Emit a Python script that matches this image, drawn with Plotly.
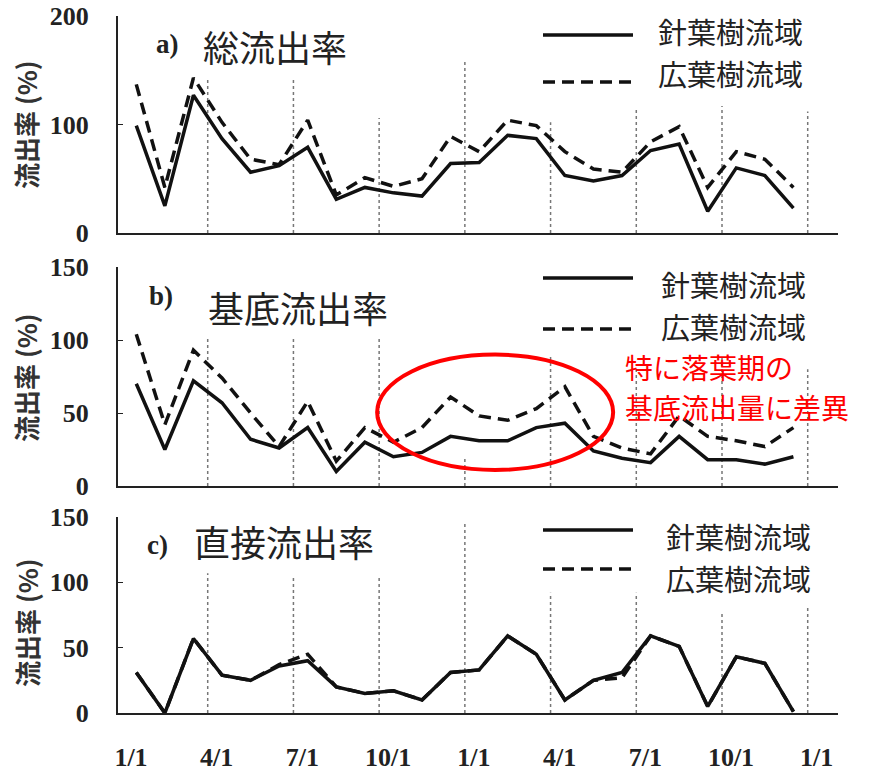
import plotly.graph_objects as go

# ---------------- data ----------------
month_pos = [0.5, 1.5, 2.5, 3.5, 4.5, 5.5, 6.5, 7.5, 8.5, 9.5, 10.5, 11.5,
             12.5, 13.5, 14.5, 15.5, 16.5, 17.5, 18.5, 19.5, 20.5, 21.5, 22.5, 23.5]

total_conifer = [99, 25, 127, 87, 56, 62, 79, 31, 42, 37, 34, 64,
                 65, 90, 87, 53, 48, 53, 76, 82, 20, 60, 53, 23]
total_broadleaf = [137, 42, 143, 102, 68, 63, 104, 35, 51, 43, 50, 89,
                   75, 104, 99, 75, 59, 56, 84, 98, 42, 75, 68, 42]

base_conifer = [70, 25, 72, 57, 32, 26, 40, 10, 30, 20, 23, 34,
                31, 31, 40, 43, 24, 19, 16, 34, 18, 18, 15, 20]
base_broadleaf = [104, 42, 93, 74, 50, 27, 58, 17, 40, 30, 40, 61,
                  48, 45, 53, 68, 34, 26, 22, 48, 34, 31, 27, 40]

direct_conifer = [31, 0, 57, 29, 25, 36, 40, 20, 15, 17, 10, 31,
                  33, 59, 45, 10, 25, 31, 59, 51, 5, 43, 38, 1]
direct_broadleaf = [31, 0, 57, 29, 25, 37, 45, 20, 15, 17, 10, 31,
                    33, 59, 45, 10, 25, 27, 59, 51, 5, 43, 38, 1]

tick_months = [0, 3, 6, 9, 12, 15, 18, 21, 24]
tick_labels = ["1/1", "4/1", "7/1", "10/1", "1/1", "4/1", "7/1", "10/1", "1/1"]
grid_months = [3, 6, 9, 12, 15, 18, 21, 24]
grid_top_a = [142, 142, 106, 160, 102, 114, 117, 112]
grid_top_b = [101, 101, 101, 20, 89, 80, 90, 80]
grid_top_c = [107, 105, 105, 145, 92, 92, 76, 81]

panel_titles = ["総流出率", "基底流出率", "直接流出率"]
panel_letters = ["a)", "b)", "c)"]
series_names = ["針葉樹流域", "広葉樹流域"]
y_title = "流出率 (%)"
note_lines = ["特に落葉期の", "基底流出量に差異"]

# ---------------- geometry ----------------
W, H = 879, 775
ML, MR, MT, MB = 118, 41, 16, 62
PW = W - ML - MR
PH = H - MT - MB


def px(x):
    return (x - ML) / PW


def py(y):
    return (H - MB - y) / PH


XR = [-0.14, 25.06]
BLACK = "#111111"
LW = 3.5
DASH = "12px,7px"
SERIF = "Liberation Serif"
CJK = "Noto Sans CJK JP"

fig = go.Figure()

panels = [
    ("x", "y", total_conifer, total_broadleaf),
    ("x2", "y2", base_conifer, base_broadleaf),
    ("x3", "y3", direct_conifer, direct_broadleaf),
]
for xa, ya, sol, das in panels:
    fig.add_trace(go.Scatter(x=month_pos, y=das, mode="lines", xaxis=xa, yaxis=ya,
                             line=dict(color=BLACK, width=LW, dash=DASH),
                             name=series_names[1], showlegend=False))
    fig.add_trace(go.Scatter(x=month_pos, y=sol, mode="lines", xaxis=xa, yaxis=ya,
                             line=dict(color=BLACK, width=LW),
                             name=series_names[0], showlegend=False))

axis_common = dict(showline=True, linecolor="#222222", linewidth=2, showgrid=False,
                   zeroline=False, automargin=False)
yfont = dict(family=SERIF, size=26, color="#222222", weight="bold")

fig.update_layout(
    width=W, height=H, margin=dict(l=ML, r=MR, t=MT, b=MB),
    paper_bgcolor="white", plot_bgcolor="white", showlegend=False,
    xaxis=dict(domain=[0, 1], anchor="y", range=XR, showticklabels=False, ticks="", **axis_common),
    xaxis2=dict(domain=[0, 1], anchor="y2", range=XR, showticklabels=False, ticks="", **axis_common),
    xaxis3=dict(domain=[0, 1], anchor="y3", range=XR, tickvals=tick_months, ticktext=tick_labels,
                ticks="", tickfont=yfont, ticklabelshift=9, ticklabelstandoff=20, **axis_common),
    yaxis=dict(domain=[py(233), py(16)], anchor="x", range=[0, 200], tickvals=[0, 100, 200],
               ticks="inside", ticklen=5, tickcolor="#222", tickfont=yfont, ticklabelstandoff=22,
               **axis_common),
    yaxis2=dict(domain=[py(486), py(267)], anchor="x2", range=[0, 150], tickvals=[0, 50, 100, 150],
                ticks="inside", ticklen=5, tickcolor="#222", tickfont=yfont, ticklabelstandoff=22,
                **axis_common),
    yaxis3=dict(domain=[py(713), py(517)], anchor="x3", range=[0, 150], tickvals=[0, 50, 100, 150],
                ticks="inside", ticklen=5, tickcolor="#222", tickfont=yfont, ticklabelstandoff=22,
                **axis_common),
)

# dotted vertical guide lines
for (xa, ya), tops in zip([("x", "y"), ("x2", "y2"), ("x3", "y3")], [grid_top_a, grid_top_b, grid_top_c]):
    for m, t in zip(grid_months, tops):
        fig.add_shape(type="line", xref=xa, yref=ya, x0=m, x1=m, y0=0, y1=t,
                      line=dict(color="#777777", width=1.5, dash="dot"), layer="below")

# red ellipse on panel b
fig.add_shape(type="circle", xref="x2", yref="y2", x0=8.93, x1=17.19, y0=11, y1=90,
              line=dict(color="#ff0000", width=4))

# panel titles, letters, legends, y titles
title_pos = [(202, 46), (207, 307), (193, 541)]
letter_pos = [(155, 44), (148, 296), (146, 545)]
legend_lines = [(35, 82), (278, 329), (530, 569)]
legend_text = [(657, 31, 73), (660, 284, 326), (665, 536, 578)]
ytitle_pos = [125, 378, 623]

for i in range(3):
    tx, ty = title_pos[i]
    fig.add_annotation(xref="paper", yref="paper", x=px(tx), y=py(ty), text=panel_titles[i],
                       showarrow=False, xanchor="left", yanchor="middle", borderpad=0,
                       font=dict(family=CJK, size=36, color="#222222"))
    lx, ly = letter_pos[i]
    fig.add_annotation(xref="paper", yref="paper", x=px(lx), y=py(ly), text=panel_letters[i],
                       showarrow=False, xanchor="left", yanchor="middle", borderpad=0,
                       font=dict(family=SERIF, size=27, color="#222222", weight="bold"))
    s_y, d_y = legend_lines[i]
    fig.add_shape(type="line", xref="paper", yref="paper", x0=px(543), x1=px(633), y0=py(s_y), y1=py(s_y),
                  line=dict(color=BLACK, width=LW))
    fig.add_shape(type="line", xref="paper", yref="paper", x0=px(543), x1=px(633), y0=py(d_y), y1=py(d_y),
                  line=dict(color=BLACK, width=LW, dash=DASH))
    lxt, ly1, ly2 = legend_text[i]
    for name, yy in zip(series_names, [ly1, ly2]):
        fig.add_annotation(xref="paper", yref="paper", x=px(lxt), y=py(yy), text=name,
                           showarrow=False, xanchor="left", yanchor="middle", borderpad=0,
                           font=dict(family=CJK, size=29, color="#222222"))
    fig.add_annotation(xref="paper", yref="paper", x=px(26), y=py(ytitle_pos[i]), text=y_title,
                       textangle=-90, showarrow=False, xanchor="center", yanchor="middle", borderpad=0,
                       font=dict(family=CJK, size=26, color="#333333", weight="bold"))

for line, yy in zip(note_lines, [367, 407]):
    fig.add_annotation(xref="paper", yref="paper", x=px(624), y=py(yy), text=line,
                       showarrow=False, xanchor="left", yanchor="middle", borderpad=0,
                       font=dict(family=CJK, size=28, color="#ff0000"))

fig.write_html("out.html")
